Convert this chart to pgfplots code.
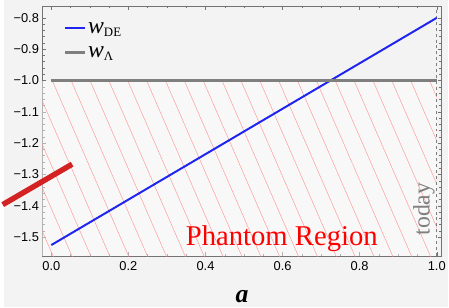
\documentclass[border=0pt]{standalone}
\usepackage{pgfplots}
\pgfplotsset{compat=1.18}
\usepackage{fontspec}
\setmainfont{Liberation Serif}
\newfontfamily\tickfont{Liberation Sans}
\usetikzlibrary{patterns.meta}
\definecolor{bg}{HTML}{F3F3F3}
\definecolor{myblue}{HTML}{1F24F0}
\definecolor{mygray}{HTML}{7F7F7F}
\definecolor{myred}{HTML}{D42222}
\begin{document}
\begin{tikzpicture}
\fill[bg] (-39pt,-52pt) rectangle (410pt,259pt);
\begin{axis}[
  at={(0,0)}, anchor=south west,
  scale only axis, width=404pt, height=253pt,
  xmin=-0.023, xmax=1.013, ymin=-1.560, ymax=-0.762,
  clip=false,
  axis line style={black!55, line width=0.6pt},
  axis background/.style={fill=bg},
  xtick={0,0.2,0.4,0.6,0.8,1.0},
  xticklabels={0.0,0.2,0.4,0.6,0.8,1.0},
  minor x tick num=3,
  ytick={-1.5,-1.4,-1.3,-1.2,-1.1,-1.0,-0.9,-0.8},
  yticklabels={−1.5,−1.4,−1.3,−1.2,−1.1,−1.0,−0.9,−0.8},
  minor y tick num=4,
  tick align=inside,
  major tick length=4pt, minor tick length=2.5pt,
  tick style={black!55, line width=0.5pt},
  ticklabel style={font=\tickfont\fontsize{13}{14}\selectfont, text=black},
  xticklabel style={yshift=-2pt},
  xlabel={\fontsize{26}{28}\selectfont\bfseries\itshape a},
  xlabel style={at={(axis description cs:0.5,0)}, anchor=base, inner sep=0pt, yshift=-47pt},
  legend style={draw=none, fill=none, at={(axis cs:0.03,-0.804)}, anchor=north west,
    row sep=8pt, inner sep=1pt, font=\fontsize{24}{24}\selectfont},
  legend cell align=left,
  legend image code/.code={\draw[#1] (0pt,0pt) -- (20pt,0pt);},
]
\addplot[draw=none, fill=white, fill opacity=0.45, forget plot] coordinates {(-0.023,-1) (1,-1) (1,-1.560) (-0.023,-1.560)} -- cycle;
\addplot[draw=none, pattern={Lines[angle=113.5, distance=17.5pt, line width=0.4pt]}, pattern color=red!45, forget plot] coordinates {(-0.023,-1) (1,-1) (1,-1.560) (-0.023,-1.560)} -- cycle;
\addplot[mygray, dashed, line width=0.6pt, forget plot] coordinates {(1,-1.560) (1,-0.762)};
\addplot[myblue, line width=2pt] coordinates {(0,-1.525) (1,-0.800)};
\addlegendentry{\fontsize{24}{24}\selectfont\textit{w}\raisebox{-0.3ex}{\fontsize{13}{13}\selectfont DE}}
\addplot[mygray, line width=2.4pt] coordinates {(0,-1.0) (1,-1.0)};
\addlegendentry{\fontsize{24}{24}\selectfont\textit{w}\raisebox{-0.3ex}{\fontsize{13}{13}\selectfont Λ}}
\addplot[myred, line width=5.5pt, forget plot] coordinates {(-0.126,-1.396) (0.054,-1.267)};
\node[text=red, font=\fontsize{29}{30}\selectfont] at (axis cs:0.598,-1.505) {Phantom Region};
\node[text=mygray, rotate=90, font=\fontsize{24}{26}\selectfont, anchor=south] at (axis cs:1.004,-1.41) {today};
\end{axis}
\end{tikzpicture}
\end{document}
